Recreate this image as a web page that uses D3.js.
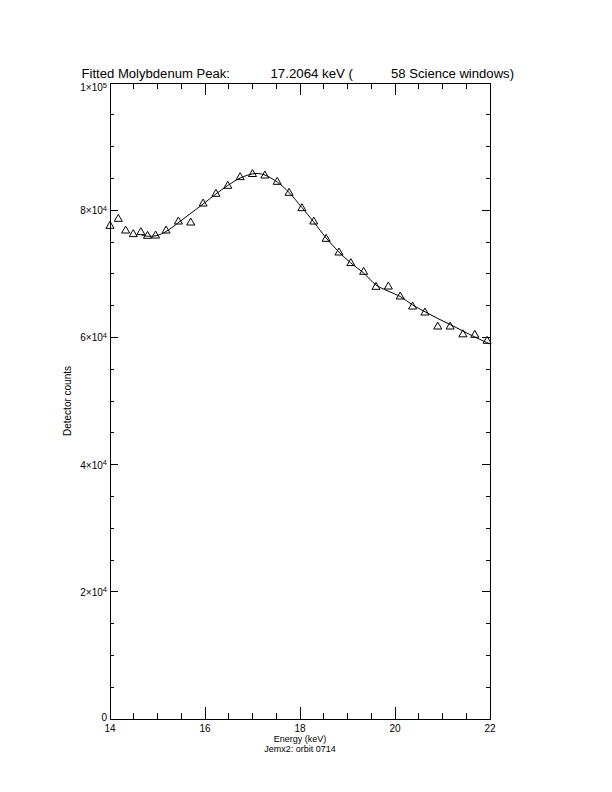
<!DOCTYPE html>
<html><head><meta charset="utf-8">
<script src="https://cdn.jsdelivr.net/npm/d3@7"></script>
<style>body{margin:0;background:#fff}svg{display:block}</style>
</head><body><svg id="c" width="612" height="792"></svg>
<script>
// Measured data points (energy keV, detector counts)
const energy = [14.00,14.175,14.33,14.49,14.65,14.79,14.96,15.18,15.44,15.70,15.96,16.23,16.48,16.74,17.00,17.26,17.52,17.77,18.04,18.29,18.55,18.82,19.07,19.34,19.60,19.86,20.11,20.37,20.63,20.90,21.16,21.43,21.68,21.94];
const counts = [77516,78616,76777,76211,76525,75943,75991,76777,78192,78035,81022,82547,83805,85173,85660,85425,84434,82704,80299,78192,75472,73317,71651,70283,67925,67972,66399,64827,63884,61683,61683,60456,60377,59434];
// Fitted curve
const fitEnergy = [14.67,14.84,14.99,15.18,15.43,15.68,15.96,16.23,16.48,16.74,16.99,17.12,17.26,17.52,17.77,18.04,18.29,18.55,18.82,19.07,19.34,19.60,19.85,20.11,20.37,20.63,20.90,21.16,21.43,21.68,22.00];
const fitCounts = [76022,75896,76022,76651,77987,79403,80975,82547,83884,85063,85692,85770,85535,84434,82783,80425,78145,75629,73428,71698,70126,68239,67296,66431,65094,64041,62972,62028,61006,60063,58962];
const xTicks = [14,16,18,20,22];
const xTickLabels = ["14","16","18","20","22"];
const yTicks = [0,20000,40000,60000,80000,100000];
const yTickMant = ["0","2","4","6","8","1"];
const yTickExp = ["","4","4","4","4","5"];
const titleParts = ["Fitted Molybdenum Peak:","17.2064 keV (","58 Science windows)"];
const xTitle = "Energy (keV)";
const subTitle = "Jemx2: orbit 0714";
const yTitle = "Detector counts";

const svg = d3.select("#c");
const L=110,R=490,T=83,B=719;
const x = d3.scaleLinear().domain([14,22]).range([L,R]);
const y = d3.scaleLinear().domain([0,100000]).range([B,T]);
const font = "Liberation Sans, Arial, sans-serif";

// frame
svg.append("rect").attr("x",L).attr("y",T).attr("width",R-L).attr("height",B-T)
  .attr("fill","none").attr("stroke","#000").attr("stroke-width",1).attr("shape-rendering","crispEdges");

// ticks
const xMinor = d3.range(14,22.001,0.5);
const g = svg.append("g").attr("stroke","#000").attr("stroke-width",1).attr("shape-rendering","crispEdges");
xMinor.forEach(v=>{
  const major = xTicks.includes(v);
  const len = major?12:6;
  g.append("line").attr("x1",x(v)).attr("x2",x(v)).attr("y1",B).attr("y2",B-len);
  g.append("line").attr("x1",x(v)).attr("x2",x(v)).attr("y1",T).attr("y2",T+len);
});
const yMinor = d3.range(0,100001,5000);
yMinor.forEach(v=>{
  const major = yTicks.includes(v);
  const len = major?8:4;
  g.append("line").attr("y1",y(v)).attr("y2",y(v)).attr("x1",L).attr("x2",L+len);
  g.append("line").attr("y1",y(v)).attr("y2",y(v)).attr("x1",R).attr("x2",R-len);
});

// x tick labels
xTicks.forEach((v,i)=>{
  svg.append("text").attr("x",x(v)).attr("y",B+13).attr("text-anchor","middle")
    .attr("font-family",font).attr("font-size",10).text(xTickLabels[i]);
});
// y tick labels
yTicks.forEach((v,i)=>{
  const base = (i===yTicks.length-1) ? y(v)+8 : (i===0 ? y(v)+2 : y(v)+4);
  const t = svg.append("text").attr("x",L-3).attr("y",base).attr("text-anchor","end")
    .attr("font-family",font).attr("font-size",10);
  if(yTickExp[i]===""){ t.text(yTickMant[i]); }
  else {
    t.append("tspan").text(yTickMant[i]+"×10");
    t.append("tspan").attr("dy",-3.5).attr("font-size",7.5).text(yTickExp[i]);
  }
});

// titles
const tx=[81.5,270.5,391], tw=[148.5,82.5,123];
titleParts.forEach((s,i)=>{
  svg.append("text").attr("x",tx[i]).attr("y",78).attr("font-family",font).attr("font-size",12)
    .attr("textLength",tw[i]).attr("lengthAdjust","spacingAndGlyphs").text(s);
});
svg.append("text").attr("x",300).attr("y",742).attr("text-anchor","middle")
  .attr("font-family",font).attr("font-size",9).text(xTitle);
svg.append("text").attr("x",300).attr("y",751.5).attr("text-anchor","middle")
  .attr("font-family",font).attr("font-size",9).text(subTitle);
svg.append("text").attr("transform","translate(71,401) rotate(-90)").attr("text-anchor","middle")
  .attr("font-family",font).attr("font-size",10).text(yTitle);

// fit line
const fit = fitEnergy.map((e,i)=>[e,fitCounts[i]]);
svg.append("path").datum(fit)
  .attr("d",d3.line().x(d=>x(d[0])).y(d=>y(d[1])).curve(d3.curveCatmullRom))
  .attr("fill","none").attr("stroke","#000").attr("stroke-width",1);

// data triangles
const tri = d3.symbol().type(d3.symbolTriangle).size(28);
svg.append("g").selectAll("path").data(energy.map((e,i)=>[e,counts[i]])).join("path")
  .attr("transform",d=>`translate(${x(d[0])},${y(d[1])})`)
  .attr("d",tri).attr("fill","none").attr("stroke","#000").attr("stroke-width",1);
</script></body></html>
